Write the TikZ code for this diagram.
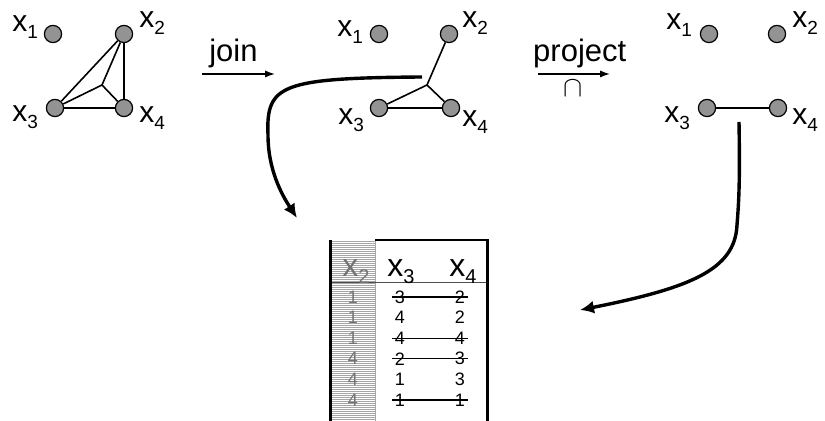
\documentclass[tikz,border=0pt]{standalone}
\usepackage{fontspec}
\setmainfont{Liberation Sans}
\usepackage{tikz}
\usetikzlibrary{arrows.meta}
\usetikzlibrary{positioning}
\tikzset{
  % variable labels and table entries
  lab/.style={inner sep=0pt, anchor=base west, font=\fontsize{15}{18}\selectfont},
  head/.style={inner sep=0pt, anchor=base west, font=\fontsize{16}{19}\selectfont},
  cell/.style={inner sep=1.4pt, font=\fontsize{9}{10}\selectfont}
}
% x with a lowered index
\newcommand\xv[1]{x\raisebox{-3.4pt}{\fontsize{9.5}{10}\selectfont #1}}
\newcommand\xh[1]{x\raisebox{-3.2pt}{\fontsize{10}{11}\selectfont #1}}

\begin{document}
\begin{tikzpicture}[x=0.5pt, y=-0.5pt]
    % Define styles
    \tikzstyle{vertex} = [circle, draw, line width=0.6pt, fill=gray!85, inner sep=0pt, minimum size=8.6pt]
    \tikzstyle{edge} = [draw, line width=0.8pt]
    \tikzstyle{op} = [draw, line width=0.7pt, -{Latex[length=5pt,width=3.6pt]}]
    \tikzstyle{flow} = [draw, line width=1.7pt, -{Latex[length=7pt,width=6.5pt]}]
    \tikzstyle{strike} = [draw, line width=0.6pt]

    \useasboundingbox (0,0) rectangle (825,421);

    % First graph
    \node [vertex] (v1) at (53,34) {};
    \node [vertex] (v2) at (124,34) {};
    \node [vertex] (v3) at (55,108) {};
    \node [vertex] (v4) at (124,108) {};
    \coordinate (m) at (102,85);
    \node [lab] (l1) at (12,32) {\xv{1}};
    \node [lab] (l2) at (139,28) {\xv{2}};
    \node [lab] (l3) at (12,122) {\xv{3}};
    \node [lab] (l4) at (139,123) {\xv{4}};
    \path [edge] (v2) -- (v3);
    \path [edge] (v2) -- (v4);
    \path [edge] (v3) -- (v4);
    \path [edge] (m) -- (v2);
    \path [edge] (m) -- (v3);
    \path [edge] (m) -- (v4);

    % join
    \coordinate (j0) at (202,74);
    \coordinate (j1) at (275,74);
    \path [op] (j0) -- node [above, pos=0.43, inner sep=2.5pt, font=\fontsize{15.5}{18}\selectfont] (join) {join} (j1);

    % Second graph
    \node [vertex] (w1) at (379,34) {};
    \node [vertex] (w2) at (449,34) {};
    \node [vertex] (w3) at (379,108) {};
    \node [vertex] (w4) at (451,108) {};
    \coordinate (n) at (427,85);
    \node [lab] (k1) at (337,37) {\xv{1}};
    \node [lab] (k2) at (462,28) {\xv{2}};
    \node [lab] (k3) at (338,125) {\xv{3}};
    \node [lab] (k4) at (462,127) {\xv{4}};
    \path [edge] (n) -- (w2);
    \path [edge] (n) -- (w3);
    \path [edge] (n) -- (w4);
    \path [edge] (w3) -- (w4);

    % project
    \coordinate (p0) at (538,74);
    \coordinate (p1) at (610,74);
    \path [op] (p0) -- node [above, pos=0.58, inner sep=2.5pt, font=\fontsize{15.5}{18}\selectfont] (proj) {project}
                       node [below, pos=0.49, inner sep=3pt, font=\fontsize{15}{18}\selectfont] (capsym) {$\cap$} (p1);

    % Third graph
    \node [vertex] (u1) at (709,34) {};
    \node [vertex] (u2) at (777,34) {};
    \node [vertex] (u3) at (707,108) {};
    \node [vertex] (u4) at (778,108) {};
    \node [lab] (q1) at (666,30) {\xv{1}};
    \node [lab] (q2) at (792,28) {\xv{2}};
    \node [lab] (q3) at (664,123) {\xv{3}};
    \node [lab] (q4) at (792,125) {\xv{4}};
    \path [edge] (u3) -- (u4);

    % Relation table
    \foreach \y in {241,243,...,421}
        \draw [gray!70, line width=0.45pt] (332,\y) -- (375,\y);
    \draw [gray!70, line width=0.5pt] (375,240) -- (375,421);
    \draw [gray!60!black, line width=0.5pt] (332,283) -- (487,283);
    \draw [line width=1.5pt] (330,240) -- (330,421);
    \draw [line width=1pt] (375,240) -- (487,240);
    \draw [line width=1.5pt] (487,239.5) -- (487,421);
    \node [head, text=gray!90!black] (h2) at (342,277) {\xh{2}};
    \node [head] (h3) at (387,277) {\xh{3}};
    \node [head] (h4) at (449,277) {\xh{4}};
    \foreach \k/\a/\b/\c in {1/1/3/2, 2/1/4/2, 3/1/4/4, 4/4/2/3, 5/4/1/3, 6/4/1/1} {
        \node [cell, text=gray!90!black] (x\k) at (353,276.4+20.6*\k) {\a};
        \node [cell] (y\k) at (400,276.4+20.6*\k) {\b};
        \node [cell] (z\k) at (460,276.4+20.6*\k) {\c};
    }
    \foreach \k in {1,3,4,6}
        \path [strike] (y\k.west) -- (z\k.east);

    % Curved arrows into the table
    \coordinate (s1) at (422,77);
    \coordinate (t1) at (297,218);
    \path [flow] (s1) .. controls (280,78) and (266,85) .. (268,135)
                      .. controls (268,170) and (282,195) .. (t1);
    \coordinate (s2) at (739,122);
    \coordinate (t2) at (580,310);
    \path [flow] (s2) .. controls (740,180) and (739,200) .. (737,225)
                      .. controls (735,270) and (690,288) .. (t2);
\end{tikzpicture}
\end{document}
